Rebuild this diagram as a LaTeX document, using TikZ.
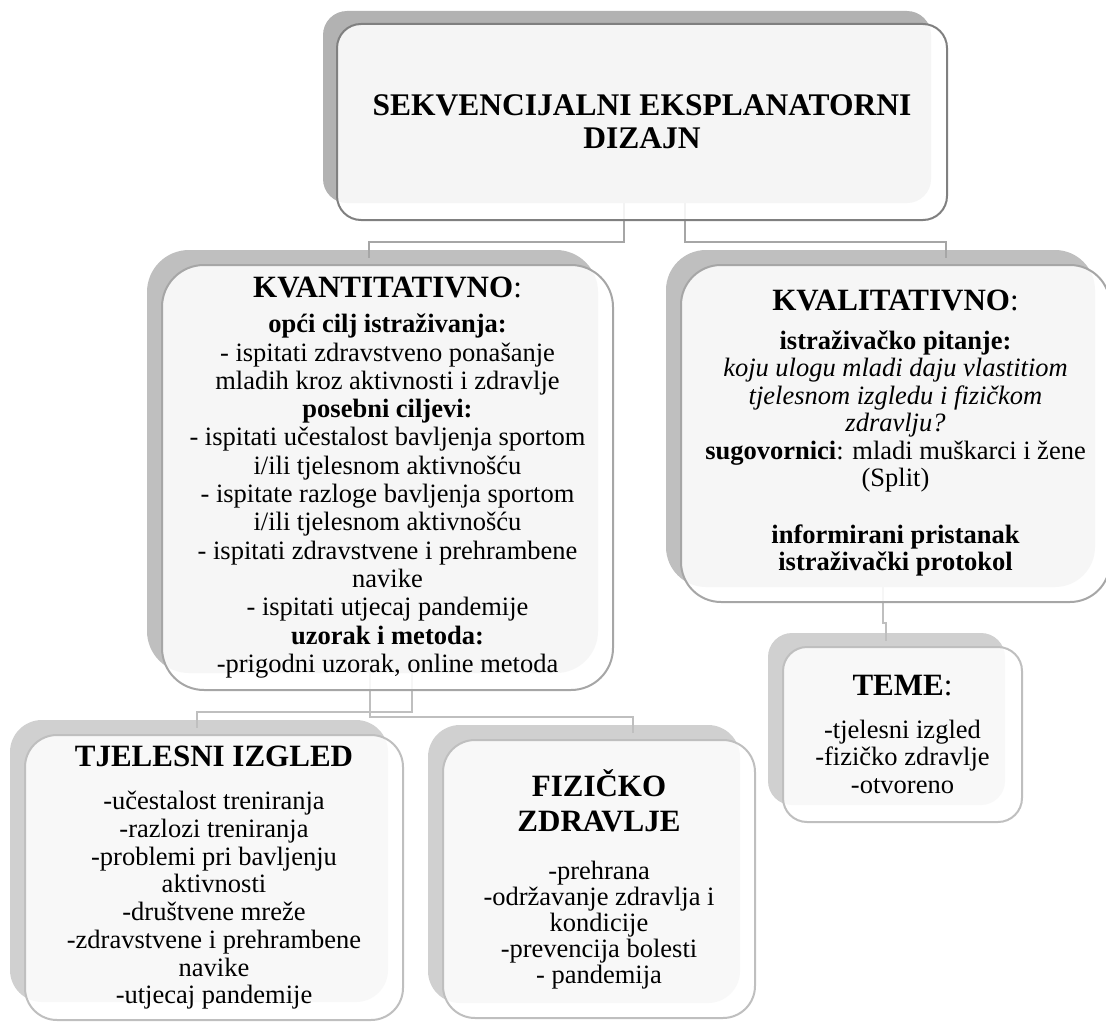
\documentclass[tikz,border=0pt]{standalone}
\usepackage{fontspec}
\setmainfont{Liberation Serif}
\newcommand{\naslov}[1]{{\fontsize{31}{34}\selectfont #1}}
\begin{document}
\begin{tikzpicture}[x=1pt, y=-1pt,
        shadowbox/.style={fill=#1, inner sep=0pt},
        mainbox/.style={draw=#1, line width=2pt, fill=white, fill opacity=0.87,
            text opacity=1, inner sep=0pt, align=center,
            font=\fontsize{26.5}{27.5}\selectfont},
        link/.style={draw=#1, line width=1.5pt}]
\useasboundingbox ( 0, 0 ) rectangle ( 1106, 1025 );

% задние прямоугольники
                \node [shadowbox=gray!60, minimum width=608pt, minimum height=192pt, rounded corners=24pt] (rootb) at ( 627, 107 ) {};
                \node [shadowbox=gray!50, minimum width=451pt, minimum height=423pt, rounded corners=42pt] (kvantb) at ( 372.5, 461.5 ) {};
                \node [shadowbox=gray!50, minimum width=429pt, minimum height=337pt, rounded corners=40pt] (kvalitb) at ( 880.5, 418.5 ) {};
                \node [shadowbox=gray!37, minimum width=237pt, minimum height=172pt, rounded corners=24pt] (temeb) at ( 886.5, 719 ) {};
                \node [shadowbox=gray!37, minimum width=378pt, minimum height=282pt, rounded corners=32pt] (izgledb) at ( 199, 861 ) {};
                \node [shadowbox=gray!37, minimum width=312pt, minimum height=278pt, rounded corners=32pt] (zdravljeb) at ( 584, 864 ) {};

% связи
                \draw [link=gray!70] ([xshift=-3pt]rootb.south) -- ++( 0, 39 ) -| ([xshift=-3.5pt, yshift=-8pt]kvantb.north);
                \draw [link=gray!70] ([xshift=58pt]rootb.south) -- ++( 0, 39 ) -| ([xshift=65.5pt, yshift=-8pt]kvalitb.north);
                \draw [link=gray!50] ([xshift=39.5pt]kvantb.south) -- ++( 0, 39 ) -| ([xshift=-2pt, yshift=-8pt]izgledb.north);
                \draw [link=gray!50] ([xshift=-2.5pt]kvantb.south) -- ++( 0, 44 ) -| ([xshift=49pt, yshift=-8pt]zdravljeb.north);
                \draw [link=gray!50] ([xshift=2.5pt]kvalitb.south) -- ++( 0, 36 ) -| ([xshift=-0.5pt, yshift=-8pt]temeb.north);

% передние прямоугольники
                \node [mainbox=gray, minimum width=610pt, minimum height=196pt, rounded corners=24pt,
                       font=\fontsize{31.5}{33}\selectfont\bfseries] (root) at ( 642, 122 )
                      {SEKVENCIJALNI EKSPLANATORNI\\DIZAJN};

                \node [mainbox=gray!70, minimum width=451pt, minimum height=425pt, rounded corners=42pt,
                       font=\fontsize{26.5}{28.3}\selectfont] (kvant) at ( 387.5, 477.5 )
                      {\naslov{\textbf{KVANTITATIVNO}:}\\[7pt]
                       \textbf{opći cilj istraživanja:}\\
                       - ispitati zdravstveno ponašanje\\
                       mladih kroz aktivnosti i zdravlje\\
                       \textbf{posebni ciljevi:}\\
                       - ispitati učestalost bavljenja sportom\\
                       i/ili tjelesnom aktivnošću\\
                       - ispitate razloge bavljenja sportom\\
                       i/ili tjelesnom aktivnošću\\
                       - ispitati zdravstvene i prehrambene\\
                       navike\\
                       - ispitati utjecaj pandemije\\
                       \textbf{uzorak i metoda:}\\
                       -prigodni uzorak, online metoda};

                \node [mainbox=gray!70, minimum width=429pt, minimum height=337pt, rounded corners=40pt] (kvalit) at ( 895.5, 433.5 )
                      {\naslov{\textbf{KVALITATIVNO}:}\\[11pt]
                       \textbf{istraživačko pitanje:}\\
                       \textit{koju ulogu mladi daju vlastitiom}\\
                       \textit{tjelesnom izgledu i fizičkom}\\
                       \textit{zdravlju?}\\
                       \textbf{sugovornici}: mladi muškarci i žene\\
                       (Split)\\[29pt]
                       \textbf{informirani pristanak}\\
                       \textbf{istraživački protokol}};

                \node [mainbox=gray!50, minimum width=239pt, minimum height=175pt, rounded corners=24pt] (teme) at ( 902.5, 734.5 )
                      {\naslov{\textbf{TEME}:}\\[15pt]
                       -tjelesni izgled\\
                       -fizičko zdravlje\\
                       -otvoreno};

                \node [mainbox=gray!50, minimum width=378pt, minimum height=285pt, rounded corners=32pt,
                       font=\fontsize{26.5}{27.7}\selectfont] (izgled) at ( 214, 877.5 )
                      {\naslov{\textbf{TJELESNI IZGLED}}\\[16pt]
                       -učestalost treniranja\\
                       -razlozi treniranja\\
                       -problemi pri bavljenju\\
                       aktivnosti\\
                       -društvene mreže\\
                       -zdravstvene i prehrambene\\
                       navike\\
                       -utjecaj pandemije};

                \node [mainbox=gray!50, minimum width=312pt, minimum height=278pt, rounded corners=32pt,
                       font=\fontsize{26.5}{26}\selectfont] (zdravlje) at ( 599, 879 )
                      {\naslov{\textbf{FIZIČKO}}\\[9pt]
                       \naslov{\textbf{ZDRAVLJE}}\\[22pt]
                       -prehrana\\
                       -održavanje zdravlja i\\
                       kondicije\\
                       -prevencija bolesti\\
                       - pandemija};
            \end{tikzpicture}
\end{document}
